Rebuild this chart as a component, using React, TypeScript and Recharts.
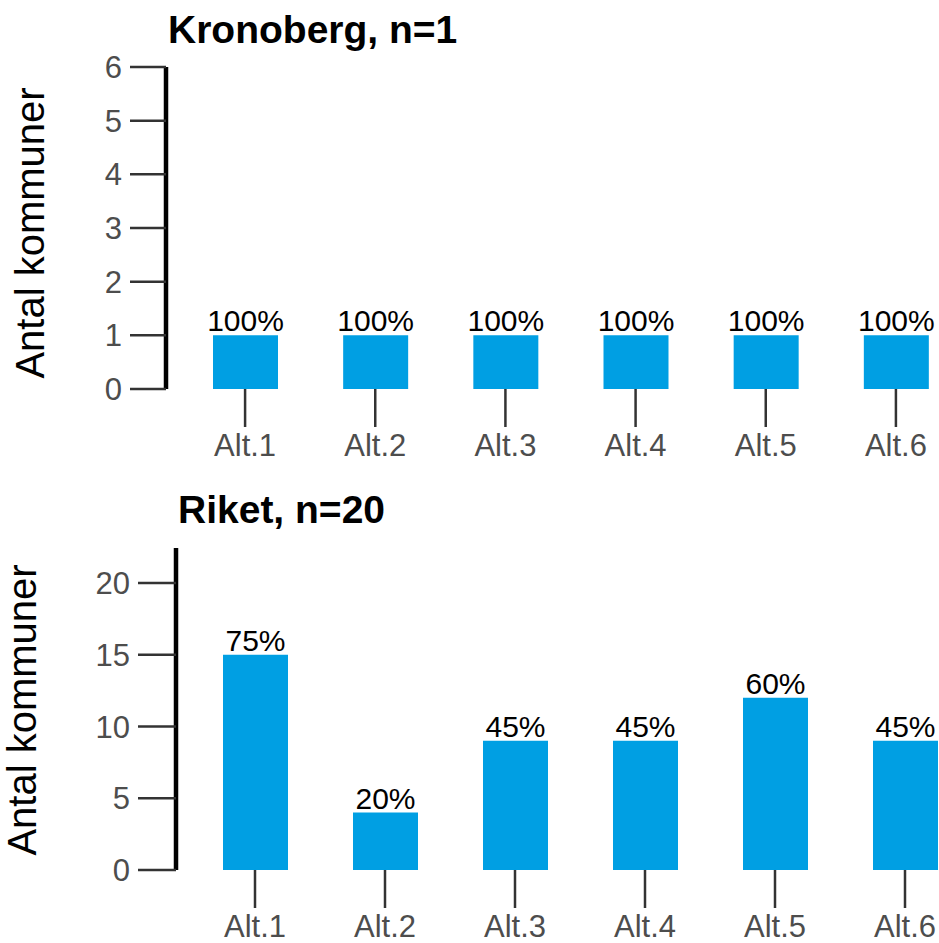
import React from "react";
import { BarChart, Bar, XAxis, YAxis, LabelList } from "recharts";

const categories = ["Alt.1", "Alt.2", "Alt.3", "Alt.4", "Alt.5", "Alt.6"];

const kronobergCount = [1, 1, 1, 1, 1, 1];
const kronobergPct = [100, 100, 100, 100, 100, 100];
const kronobergTicks = [0, 1, 2, 3, 4, 5, 6];

const riketCount = [15, 4, 9, 9, 12, 9];
const riketPct = [75, 20, 45, 45, 60, 45];
const riketTicks = [0, 5, 10, 15, 20];

const FONT = "'Liberation Sans', Arial, sans-serif";
const BLUE = "#009FE3";

interface PanelProps {
  title: string;
  counts: number[];
  pcts: number[];
  ticks: number[];
  yMax: number;
  height: number;
  top: number;
  axisX: number;
  marginTop: number;
  marginRight: number;
  marginBottom: number;
  xAxisHeight: number;
  titleX: number;
  titleY: number;
  ylabX: number;
  ylabY: number;
  yTickSize: number;
  xTickSize: number;
}

const Panel = (p: PanelProps) => {
  const data = categories.map((c, i) => ({ name: c, antal: p.counts[i], pct: p.pcts[i] }));
  return (
    <div style={{ position: "absolute", left: 8, top: p.top, width: 931, height: p.height }}>
      <BarChart
        width={931}
        height={p.height}
        data={data}
        margin={{ top: p.marginTop, right: p.marginRight, bottom: p.marginBottom, left: 0 }}
        style={{ fontFamily: FONT }}
      >
        <XAxis
          dataKey="name"
          axisLine={false}
          tickLine={{ stroke: "#333333", strokeWidth: 2.5 }}
          tickSize={p.xTickSize}
          tickMargin={7}
          height={p.xAxisHeight}
          padding={{ left: 14, right: 0 }}
          interval={0}
          tick={{ fontSize: 31, fill: "#4d4d4d", fontFamily: FONT }}
        />
        <YAxis
          type="number"
          domain={[0, p.yMax]}
          ticks={p.ticks}
          width={p.axisX}
          axisLine={{ stroke: "#000000", strokeWidth: 4.5 }}
          tickLine={{ stroke: "#333333", strokeWidth: 2.5 }}
          tickSize={p.yTickSize}
          tickMargin={8}
          tick={{ fontSize: 31, fill: "#4d4d4d", fontFamily: FONT }}
        />
        <Bar dataKey="antal" fill={BLUE} barSize={65} isAnimationActive={false}>
          <LabelList
            dataKey="pct"
            position="top"
            offset={4}
            formatter={(v: number) => `${v}%`}
            style={{ fontSize: 30, fill: "#000000", fontFamily: FONT }}
          />
        </Bar>
      </BarChart>
      <svg
        width={931}
        height={p.height}
        style={{ position: "absolute", left: 0, top: 0, pointerEvents: "none", overflow: "visible" }}
      >
        <text x={p.titleX} y={p.titleY} fontSize={39} fontWeight="bold" fill="#000" fontFamily={FONT}>
          {p.title}
        </text>
        <text
          x={p.ylabX}
          y={p.ylabY}
          fontSize={40}
          fill="#000"
          fontFamily={FONT}
          textAnchor="middle"
          dominantBaseline="central"
          transform={`rotate(-90 ${p.ylabX} ${p.ylabY})`}
        >
          Antal kommuner
        </text>
      </svg>
    </div>
  );
};

export default function App() {
  return (
    <div style={{ position: "relative", width: 939, height: 943, overflow: "hidden", background: "#fff" }}>
      <style>{`html, body { margin: 0; padding: 0; overflow: hidden; } #root { width: 939px; height: 943px; }`}</style>
      <Panel
        title="Kronoberg, n=1"
        counts={kronobergCount}
        pcts={kronobergPct}
        ticks={kronobergTicks}
        yMax={6}
        height={470}
        top={8}
        axisX={158}
        marginTop={59}
        marginRight={-22}
        marginBottom={19}
        xAxisHeight={70}
        titleX={160}
        titleY={35}
        ylabX={22}
        ylabY={225}
        yTickSize={36}
        xTickSize={38}
      />
      <Panel
        title="Riket, n=20"
        counts={riketCount}
        pcts={riketPct}
        ticks={riketTicks}
        yMax={22.44}
        height={465}
        top={478}
        axisX={168}
        marginTop={70}
        marginRight={-31}
        marginBottom={13}
        xAxisHeight={60}
        titleX={170}
        titleY={45}
        ylabX={14}
        ylabY={232}
        yTickSize={38}
        xTickSize={38}
      />
    </div>
  );
}
